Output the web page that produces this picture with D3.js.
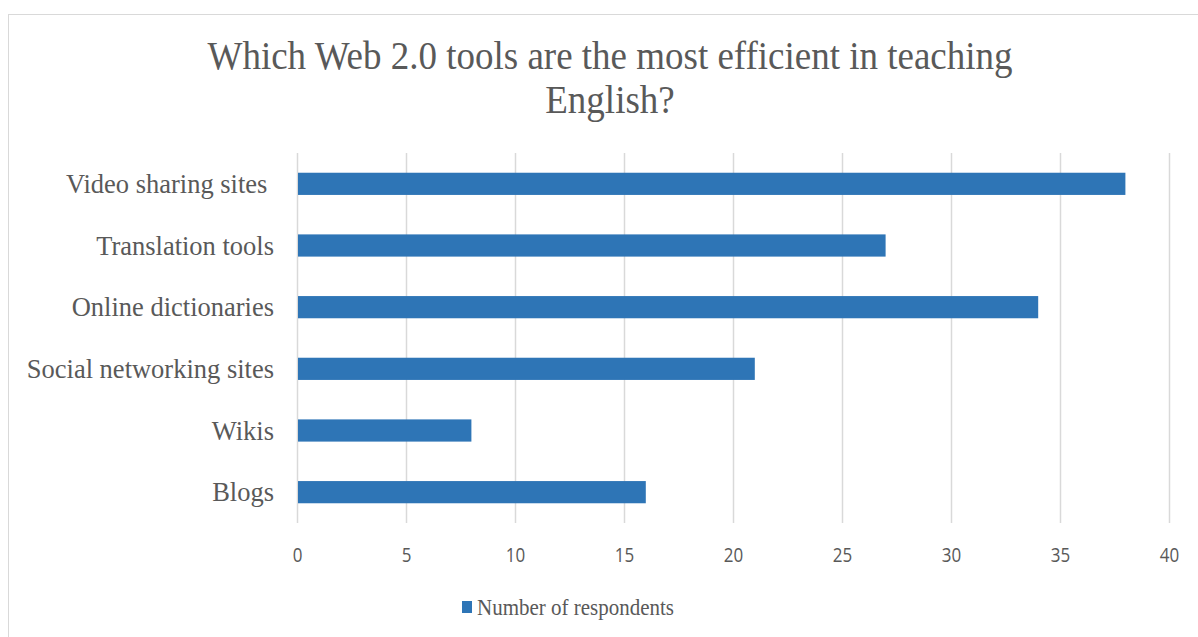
<!DOCTYPE html>
<html>
<head>
<meta charset="utf-8">
<script src="https://cdn.jsdelivr.net/npm/d3@7"></script>
<style>
  html, body { margin: 0; padding: 0; background: #fff; }
  svg { display: block; }
  text { white-space: pre; }
</style>
</head>
<body>
<svg id="chart" width="1198" height="637"></svg>
<script>
// Survey results: respondents per Web 2.0 tool
const categories = ["Video sharing sites ", "Translation tools", "Online dictionaries", "Social networking sites", "Wikis", "Blogs"];
const respondents = [38, 27, 34, 21, 8, 16];
const tickValues = [0, 5, 10, 15, 20, 25, 30, 35, 40];
const titleLines = ["Which Web 2.0 tools are the most efficient in teaching", "English?"];
const seriesName = "Number of respondents";

const W = 1198, H = 637;
const svg = d3.select("#chart");
const barColor = "#2e75b6";
const textColor = "#595959";
const serif = "'Liberation Serif', 'Times New Roman', serif";
const sans = "'Open Sans', 'Liberation Sans', sans-serif";

// vertical stretch applied to glyphs around their baseline
const stretch = (yBase, k) => `translate(0,${yBase}) scale(1,${k}) translate(0,${-yBase})`;

// chart frame
svg.append("rect")
  .attr("x", 8.5).attr("y", 14.5)
  .attr("width", W + 10).attr("height", H + 10)
  .attr("fill", "#fff").attr("stroke", "#d9d9d9").attr("stroke-width", 1);

const margin = { left: 297, right: W - 1169, top: 153, bottom: H - 523 };

const x = d3.scaleLinear().domain([0, 40]).range([margin.left, W - margin.right]);
const y = d3.scaleBand().domain(categories)
  .range([margin.top, H - margin.bottom])
  .paddingInner(0.64).paddingOuter(0.32);

// title
const titleY = [69, 113];
svg.append("g").selectAll("text").data(titleLines).join("text")
  .attr("x", 610).attr("y", (d, i) => titleY[i])
  .attr("transform", (d, i) => stretch(titleY[i], 1.06))
  .attr("text-anchor", "middle")
  .attr("font-family", serif).attr("font-size", 37).attr("fill", textColor)
  .text(d => d);

// vertical gridlines
svg.append("g")
  .selectAll("line").data(tickValues).join("line")
  .attr("x1", d => Math.round(x(d)) + 0.5).attr("x2", d => Math.round(x(d)) + 0.5)
  .attr("y1", margin.top).attr("y2", H - margin.bottom)
  .attr("stroke", "#d9d9d9").attr("stroke-width", 1.5);

// bars
svg.append("g")
  .selectAll("rect").data(categories).join("rect")
  .attr("x", x(0) + 1)
  .attr("y", d => y(d))
  .attr("width", (d, i) => x(respondents[i]) - x(0) - 1)
  .attr("height", y.bandwidth())
  .attr("fill", barColor);

// x axis tick labels
const xAxis = d3.axisBottom(x).tickValues(tickValues).tickSize(0).tickPadding(0);
const gx = svg.append("g")
  .attr("transform", `translate(0,${H - margin.bottom + 25})`)
  .call(xAxis);
gx.select(".domain").remove();
gx.selectAll("text")
  .attr("font-family", sans).attr("font-size", 17).attr("fill", textColor)
  .attr("dy", "0.71em")
  .attr("transform", "scale(1,1.18)");

// y axis category labels
const yAxis = d3.axisLeft(y).tickSize(0).tickPadding(23);
const gy = svg.append("g")
  .attr("transform", `translate(${margin.left},0)`)
  .call(yAxis);
gy.select(".domain").remove();
gy.selectAll("text")
  .attr("font-family", serif).attr("font-size", 26.5).attr("fill", textColor)
  .attr("transform", "scale(1,1.06)");

// legend
const legend = svg.append("g").attr("transform", "translate(462,601)");
legend.append("rect").attr("x", 0).attr("y", 0).attr("width", 10).attr("height", 12).attr("fill", barColor);
legend.append("text")
  .attr("x", 15).attr("y", 14)
  .attr("transform", stretch(14, 1.1))
  .attr("font-family", serif).attr("font-size", 21).attr("fill", textColor)
  .text(seriesName);
</script>
</body>
</html>
